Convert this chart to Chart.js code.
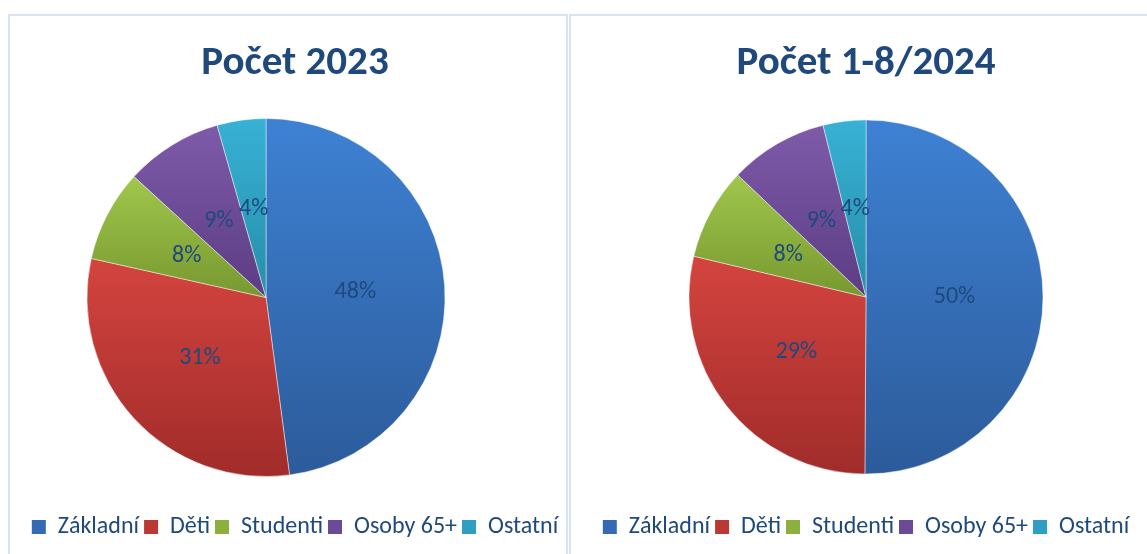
<!DOCTYPE html>
<html>
<head>
<meta charset="utf-8">
<script src="https://cdn.jsdelivr.net/npm/chart.js@4"></script>
<style>
  html, body { margin: 0; padding: 0; background: #fff; overflow: hidden; }
  #page { position: relative; width: 1147px; height: 554px; overflow: hidden; }
  .panel { position: absolute; top: 14px; height: 560px; border: 2px solid #d9e4f2; overflow: hidden; background: #fff; }
  #p1 { left: 8px; width: 556px; }
  #p2 { left: 569px; width: 620px; }
  .wrap { position: absolute; left: 0; top: 0; height: 533px; }
  #w1 { width: 570px; }
  #w2 { width: 590px; }
</style>
</head>
<body>
<div id="page">
  <div class="panel" id="p1"><div class="wrap" id="w1"><canvas id="c1"></canvas></div></div>
  <div class="panel" id="p2"><div class="wrap" id="w2"><canvas id="c2"></canvas></div></div>
</div>
<script>
const categories = ['Základní', 'Děti', 'Studenti', 'Osoby 65+', 'Ostatní'];
const values2023 = [47.9, 30.6, 8.3, 8.8, 4.4];
const values2024 = [50.1, 28.6, 8.4, 9.0, 3.9];
const titles = ['Počet 2023', 'Počet 1-8/2024'];

const lightColors = ['#3e81d3', '#d4443f', '#a1c74d', '#7e5ba9', '#37b1d5'];
const darkColors  = ['#2c5b9a', '#a02c2a', '#77982f', '#5c3c84', '#268ea8'];
const midColors   = ['#3569b5', '#bb3834', '#8cb03e', '#6b4b97', '#2e9fc0'];
const textColor = '#1f497d';
const fontFamily = 'Carlito, Lato, "Liberation Sans", sans-serif';

// gradient per slice, spanning the slice's own vertical extent
function sliceGradient(ctx, radius) {
  const i = ctx.dataIndex;
  const chart = ctx.chart;
  const area = chart.chartArea;
  if (i === undefined || !area) return midColors[i || 0];
  const data = ctx.dataset.data;
  const total = data.reduce((a, b) => a + b, 0);
  let before = 0;
  for (let k = 0; k < i; k++) before += data[k];
  const a0 = before / total * Math.PI * 2;
  const a1 = (before + data[i]) / total * Math.PI * 2;
  const cy = (area.top + area.bottom) / 2;
  let ymin = cy, ymax = cy;
  for (let k = 0; k <= 60; k++) {
    const t = a0 + (a1 - a0) * k / 60;
    const y = cy - radius * Math.cos(t);
    ymin = Math.min(ymin, y);
    ymax = Math.max(ymax, y);
  }
  const g = chart.ctx.createLinearGradient(0, ymin, 0, ymax);
  g.addColorStop(0, lightColors[i]);
  g.addColorStop(1, darkColors[i]);
  return g;
}

const shiftArea = {
  id: 'shiftArea',
  afterLayout(chart, args, opts) {
    const dx = opts.dx || 0;
    chart.chartArea.left += dx;
    chart.chartArea.right += dx;
  }
};

const pctLabels = {
  id: 'pctLabels',
  afterDatasetsDraw(chart) {
    const ctx = chart.ctx;
    const data = chart.data.datasets[0].data;
    const total = data.reduce((a, b) => a + b, 0);
    const meta = chart.getDatasetMeta(0);
    ctx.save();
    ctx.font = '24px ' + fontFamily;
    ctx.fillStyle = textColor;
    ctx.textAlign = 'center';
    ctx.textBaseline = 'middle';
    meta.data.forEach((arc, i) => {
      const p = arc.tooltipPosition();
      ctx.fillText(Math.round(data[i] / total * 100) + '%', p.x, p.y);
    });
    ctx.restore();
  }
};

function makePie(id, title, values, radius, dx, padBottom) {
  new Chart(document.getElementById(id), {
    type: 'pie',
    data: {
      labels: categories,
      datasets: [{
        data: values,
        radius: radius,
        backgroundColor: ctx => sliceGradient(ctx, radius),
        borderColor: 'rgba(255,255,255,0.45)',
        borderWidth: 1
      }]
    },
    plugins: [shiftArea, pctLabels],
    options: {
      responsive: true,
      maintainAspectRatio: false,
      animation: false,
      plugins: {
        shiftArea: { dx: dx },
        tooltip: { enabled: false },
        title: {
          display: true,
          text: title,
          color: textColor,
          font: { family: fontFamily, size: 41, weight: 'bold', lineHeight: 1 },
          padding: { top: 27, bottom: padBottom }
        },
        legend: {
          position: 'bottom',
          labels: {
            color: textColor,
            font: { family: fontFamily, size: 24 },
            boxWidth: 14,
            boxHeight: 14,
            padding: 5,
            generateLabels: chart => chart.data.labels.map((t, i) => ({
              text: t,
              fillStyle: midColors[i],
              strokeStyle: midColors[i],
              lineWidth: 0,
              fontColor: textColor,
              hidden: false,
              index: i
            }))
          }
        }
      }
    }
  });
}

makePie('c1', titles[0], values2023, 179, -29, 1);
makePie('c2', titles[1], values2024, 177, 0, 0);
</script>
</body>
</html>
